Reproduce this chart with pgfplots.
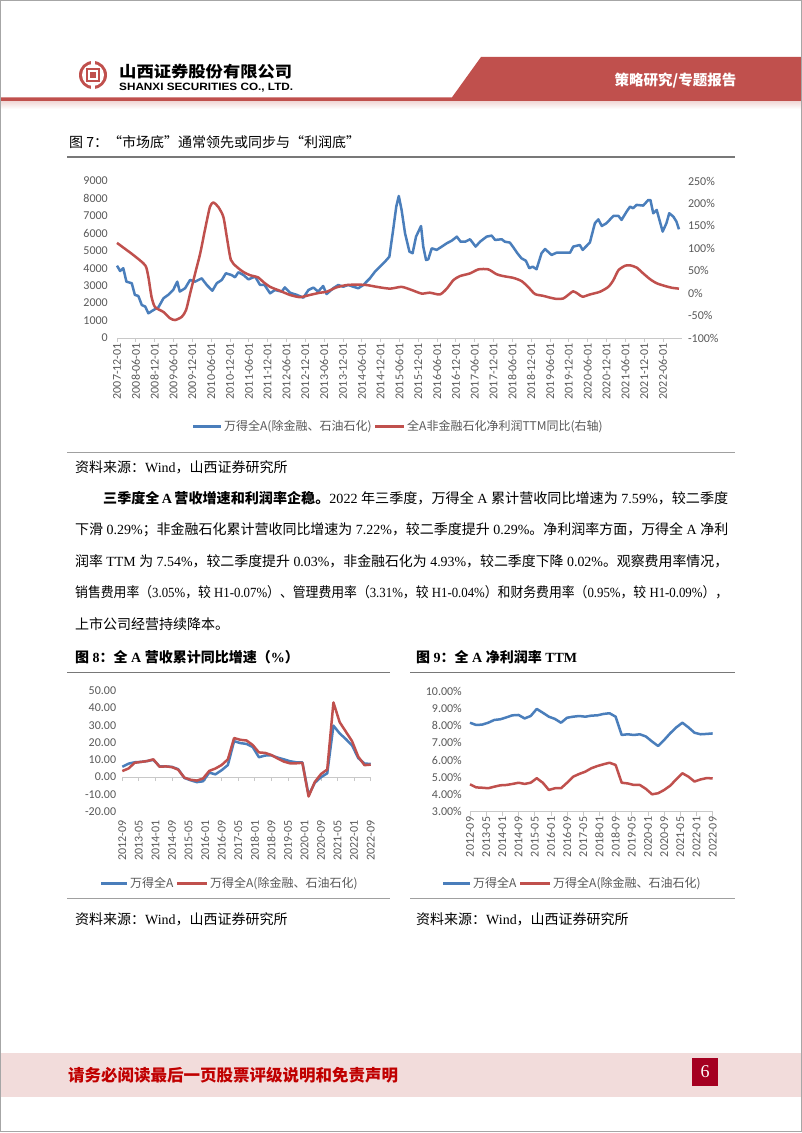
\documentclass[border=0pt]{standalone}
\usepackage{pgfplots}
\pgfplotsset{compat=1.18}
\usepackage{pgfplotstable}
\usepackage{graphicx}
\usepackage{fontspec}
\setmainfont{Liberation Serif}
\newfontfamily\cjk{Noto Sans CJK SC}
\newfontfamily\carlito{Carlito}
\newfontfamily\lsans{Liberation Sans}
\definecolor{bl}{RGB}{74,126,187}
\definecolor{rd}{RGB}{192,80,77}
\definecolor{lab}{RGB}{89,89,89}
\definecolor{axl}{RGB}{200,200,200}
\definecolor{hdr}{RGB}{192,80,77}
\definecolor{pinkband}{RGB}{242,220,219}
\definecolor{footred}{RGB}{192,0,0}
\definecolor{boxred}{RGB}{165,0,33}
\definecolor{rule}{RGB}{120,120,120}

\pgfplotstableread{
m v
0 4145
1 3840
2 4000
3 3230
4.7 3140
5.7 2470
6.8 2410
7.9 1890
9 1800
10 1415
11.6 1600
13.2 1760
14.8 2275
16.3 2470
17.9 2750
19.2 3230
20 2660
21.7 2850
23.3 3330
24.9 3230
27 3420
28.6 3040
30.4 2710
31.8 3140
33.4 3330
34.7 3710
36.5 3610
37.6 3480
38.7 3770
40.3 3610
41.9 3360
44 3520
45.6 3040
47 3040
48.8 2560
50.3 2750
52.5 2660
53.5 2900
55.1 2600
57.3 2470
59.4 2310
61 2750
62.6 2890
64.1 2660
65.7 2980
66.8 2520
68.9 2850
70.5 3040
72.1 2940
73.7 3040
75.3 2940
76.9 2850
78.5 3040
80.6 3420
82.2 3800
83.8 4090
85.4 4375
86.8 4660
88 6190
89 7530
89.8 8140
90.7 7340
91.8 6000
93.2 4950
94.2 4860
95.3 5810
96.9 6420
97.6 5240
98.5 4470
99.2 4510
100.3 5140
101.9 5050
103.5 5240
105.1 5430
106.7 5580
108.3 5810
109.5 5520
111 5520
112.5 5660
114.3 5240
115.7 5520
117.8 5810
119.4 5870
120.5 5620
122.6 5660
123.6 5520
125.2 5470
126.3 5200
127.6 4860
128.9 4570
130.3 4430
131.4 4000
132.5 4090
133.7 3940
135.3 4860
136.4 5100
138.5 4760
140.1 4890
142.2 4890
144.4 4890
145.4 5240
147.5 5330
148.4 5050
150.7 5470
152.3 6580
153.4 6800
154.5 6420
156 6580
158.2 7000
159.8 7000
160.8 6770
162.4 7240
163.5 7530
164.5 7440
165.6 7630
167.7 7590
169.3 7910
170 7910
170.9 7150
172 7340
173.9 6100
175.1 6580
176 7150
177.3 6960
178.3 6670
179.1 6230
}\indexA

\pgfplotstableread{
m v
0 112
3.1 96
5.2 85
9 62
10 36
11 -8
12.1 -31
14.8 -42
16.9 -56
18.5 -60
20.6 -53
22 -38
23.3 -1
24.9 44
26.5 88
28 140
29.6 192
30.7 202
32.3 192
33.9 170
35 125
36.3 74
38.1 59
40.3 47
42.4 40
45 35
46.6 25
48.8 14
52 5
55.1 -4
58.3 -9
61.5 -4
64.7 1
66.8 3
70 13
73.2 18
76.4 19
79.6 18
82.8 14
87 10
90.7 14
93.9 7
97.1 -1
99.7 1
102.9 -3
105.1 10
107.2 29
109.3 38
112.5 44
115.2 53
118.3 53
121 42
123.1 38
126.3 34
128.9 27
131 14
133.2 -2
135.8 -6
138 -10
140.1 -13
142.2 -12
143.8 -4
145.4 4
147 -2
148.4 -8
150.7 -3
153.9 3
156.6 14
158.2 29
159.8 51
161.9 61
163.5 62
165.6 57
167.7 44
169.9 31
172 22
174.6 16
176.8 12
179.1 10
}\profitYoY

\pgfplotstableread{
m a b
0 6.0 3.5
3 7.8 5.0
6 8.6 8.3
9 8.8 8.8
12 9.3 9.3
15 10.0 10.3
18 6.2 6.0
21 6.2 6.2
24 5.9 5.8
27 4.6 4.3
30 -0.5 -0.3
33 -1.8 -1.5
36 -2.9 -2.0
39 -2.4 -0.8
42 2.6 3.6
45 1.6 5.0
48 4.0 7.0
51 7.0 10.3
54 20.8 22.6
57 19.7 21.6
60 19.2 21.2
63 17.4 18.6
66 11.5 14.3
69 12.5 14.0
72 12.6 12.8
75 11.3 10.8
78 10.3 9.0
81 9.2 8.0
84 8.6 8.0
87 8.5 8.3
90 -10.4 -11.2
93 -3.3 -2.8
96 0.0 1.8
99 2.2 4.4
102 29.8 43.2
105 25.3 31.8
108 22.0 26.3
111 18.3 20.8
114 11.0 11.8
117 7.88 6.93
120 7.59 7.22
}\revenue

\pgfplotstableread{
m a b
0 8.16 4.59
3 8.03 4.41
6 8.05 4.39
9 8.16 4.36
12 8.32 4.45
15 8.36 4.53
18 8.47 4.55
21 8.59 4.61
24 8.61 4.68
27 8.41 4.61
30 8.55 4.68
33 8.96 4.94
36 8.74 4.68
39 8.51 4.26
42 8.38 4.36
45 8.16 4.36
48 8.45 4.68
51 8.51 5.03
54 8.55 5.19
57 8.51 5.32
60 8.57 5.52
63 8.59 5.65
66 8.67 5.75
69 8.71 5.84
72 8.51 5.71
75 7.45 4.68
78 7.49 4.64
81 7.45 4.55
84 7.49 4.55
87 7.36 4.32
90 7.07 4.01
93 6.81 4.07
96 7.16 4.26
99 7.55 4.51
102 7.89 4.88
105 8.16 5.23
108 7.89 5.03
111 7.58 4.75
114 7.49 4.87
117 7.51 4.95
120 7.54 4.93
}\margin

\pgfplotsset{
  excel/.style={
    scale only axis,
    anchor=south west,
    axis line style={axl, line width=0.8pt},
    tick style={axl, line width=0.8pt},
    major tick length=4pt,
    tick align=outside,
    tick label style={font=\carlito\fontsize{12}{12}\selectfont, text=lab},
    /pgf/number format/assume math mode=true,
    /pgf/number format/1000 sep={},
    clip=false,
  },
  dl/.style={line width=2.5pt, line join=round},
}

\begin{document}
\begin{tikzpicture}
\useasboundingbox (0,0) rectangle (802pt,1133pt);
\fill[white] (0,0) rectangle (802pt,1133pt);

% ---------------- Chart 7 ----------------
\begin{axis}[excel,
  at={(117pt,795pt)}, width=564.8pt, height=157pt,
  xmin=0, xmax=180, ymin=0, ymax=9000,
  axis x line*=bottom, axis y line*=left,
  y axis line style={draw=none}, ytick style={draw=none},
  ytick={0,1000,...,9000},
  yticklabel style={inner sep=0pt, xshift=-5pt},
  xtick={0,6,...,174},
  xticklabels={2007-12-01,2008-06-01,2008-12-01,2009-06-01,2009-12-01,2010-06-01,2010-12-01,2011-06-01,2011-12-01,2012-06-01,2012-12-01,2013-06-01,2013-12-01,2014-06-01,2014-12-01,2015-06-01,2015-12-01,2016-06-01,2016-12-01,2017-06-01,2017-12-01,2018-06-01,2018-12-01,2019-06-01,2019-12-01,2020-06-01,2020-12-01,2021-06-01,2021-12-01,2022-06-01},
  xticklabel style={rotate=90, anchor=east, inner sep=1pt},
]
\addplot[bl, dl] table[x=m, y=v] {\indexA};
\end{axis}
\begin{axis}[excel,
  at={(117pt,795pt)}, width=564.8pt, height=157pt,
  xmin=0, xmax=180, ymin=-100, ymax=250,
  axis x line=none, axis y line*=right,
  y axis line style={draw=none}, ytick style={draw=none},
  ytick={-100,-50,...,250},
  yticklabel={\pgfmathprintnumber{\tick}\%},
  yticklabel style={anchor=west, inner sep=0pt, xshift=2pt},
]
\addplot[rd, dl, smooth, tension=0.4] table[x=m, y=v] {\profitYoY};
\end{axis}

% ---------------- Chart 8 ----------------
\begin{axis}[excel,
  at={(122.3pt,321.3pt)}, width=248.4pt, height=121pt,
  xmin=0, xmax=120, ymin=-20, ymax=50,
  axis x line*=middle, axis y line*=left,
  hide obscured x ticks=false,
  y axis line style={draw=none}, ytick style={draw=none},
  ytick={-20,-10,...,50},
  yticklabel style={inner sep=0pt, xshift=-2pt, /pgf/number format/fixed, /pgf/number format/fixed zerofill, /pgf/number format/precision=2},
  xtick={0,8,...,120},
  xtick align=outside,
  xticklabels={2012-09,2013-05,2014-01,2014-09,2015-05,2016-01,2016-09,2017-05,2018-01,2018-09,2019-05,2020-01,2020-09,2021-05,2022-01,2022-09},
  xticklabel style={rotate=90, anchor=east, inner sep=1pt},
  xticklabel shift=38pt,
]
\addplot[bl, dl] table[x=m, y=a] {\revenue};
\addplot[rd, dl] table[x=m, y=b] {\revenue};
\end{axis}

% ---------------- Chart 9 ----------------
\begin{axis}[excel,
  at={(470pt,321.3pt)}, width=242.7pt, height=120.7pt,
  xmin=0, xmax=120, ymin=3, ymax=10,
  axis x line*=bottom, axis y line*=left,
  y axis line style={draw=none}, ytick style={draw=none},
  ytick={3,4,...,10},
  yticklabel={\pgfmathprintnumber[fixed,fixed zerofill,precision=2]{\tick}\%},
  yticklabel style={inner sep=0pt, xshift=-4pt},
  xtick={0,8,...,120},
  xticklabels={2012-09,2013-05,2014-01,2014-09,2015-05,2016-01,2016-09,2017-05,2018-01,2018-09,2019-05,2020-01,2020-09,2021-05,2022-01,2022-09},
  xticklabel style={rotate=90, anchor=east, inner sep=1pt},
]
\addplot[bl, dl] table[x=m, y=a] {\margin};
\addplot[rd, dl] table[x=m, y=b] {\margin};
\end{axis}

% ---------------- page decoration ----------------
\begin{scope}[x=1pt, y=-1pt, yshift=1133pt]
  % header
  \fill[hdr] (481,57) -- (802,57) -- (802,102) -- (0,102) -- (0,97.3) -- (452,97.3) -- cycle;
  \shade[top color=pinkband, bottom color=white] (0,102) rectangle (802,109);
  % logo
  \fill[hdr] (93,75) circle (14);
  \fill[white] (93,75) circle (11);
  \fill[white] (91.3,59) rectangle (94.7,65);
  \fill[white] (91.3,85) rectangle (94.7,91);
  \fill[hdr] (86,68) rectangle (100,82);
  \fill[white] (88.3,70.3) rectangle (97.7,79.7);
  \fill[hdr] (90.3,72.3) rectangle (95.7,77.7);
  \node[anchor=west, inner sep=0] at (119,71.5) {\resizebox{173pt}{\height}{\cjk\bfseries\fontsize{15.5}{16}\selectfont 山西证券股份有限公司}};
  \node[anchor=base west, inner sep=0] at (119,90.7) {\resizebox{174pt}{7.4pt}{\lsans\bfseries SHANXI SECURITIES CO., LTD.}};
  \node[anchor=west, inner sep=0, text=white] at (614.5,80.5) {\cjk\bfseries\fontsize{14.5}{15}\selectfont 策略研究/专题报告};

  % chart 7 frame texts
  \node[anchor=west, inner sep=0] at (69,142) {\cjk\fontsize{14}{15}\selectfont 图 7：“市场底”通常领先或同步与“利润底”};
  \draw[rule, line width=1.3pt] (67,157) -- (735,157);
  \draw[bl, line width=2.6pt] (193,426.7) -- (221,426.7);
  \node[anchor=west, inner sep=0, text=lab] at (224,426.7) {\cjk\fontsize{12}{12}\selectfont 万得全A(除金融、石油石化)};
  \draw[rd, line width=2.6pt] (375,426.7) -- (404,426.7);
  \node[anchor=west, inner sep=0, text=lab] at (407,426.7) {\cjk\fontsize{12}{12}\selectfont 全A非金融石化净利润TTM同比(右轴)};
  \draw[rule!70, line width=0.8pt] (67,452) -- (735,452);
  \node[anchor=west, inner sep=0] at (75,467) {\fontsize{14}{15}\selectfont{\cjk 资料来源：}Wind{\cjk ，山西证券研究所}};

  % body text
  \node[anchor=west, inner sep=0] at (103,498) {\resizebox{625pt}{\height}{\fontsize{14}{15}\selectfont{\cjk\bfseries 三季度全}\,\textbf{A}\,{\cjk\bfseries 营收增速和利润率企稳。}2022 {\cjk 年三季度，万得全} A {\cjk 累计营收同比增速为} 7.59\%{\cjk ，较二季度}}};
  \node[anchor=west, inner sep=0] at (75,529.5) {\resizebox{653pt}{\height}{\fontsize{14}{15}\selectfont{\cjk 下滑} 0.29\%{\cjk ；非金融石化累计营收同比增速为} 7.22\%{\cjk ，较二季度提升} 0.29\%{\cjk 。净利润率方面，万得全} A {\cjk 净利}}};
  \node[anchor=west, inner sep=0] at (75,561) {\resizebox{653pt}{\height}{\fontsize{14}{15}\selectfont{\cjk 润率} TTM {\cjk 为} 7.54\%{\cjk ，较二季度提升} 0.03\%{\cjk ，非金融石化为} 4.93\%{\cjk ，较二季度下降} 0.02\%{\cjk 。观察费用率情况，}}};
  \node[anchor=west, inner sep=0] at (75,592.5) {\resizebox{653pt}{\height}{\fontsize{14}{15}\selectfont{\cjk 销售费用率（}3.05\%{\cjk ，较} H1-0.07\%{\cjk ）、管理费用率（}3.31\%{\cjk ，较} H1-0.04\%{\cjk ）和财务费用率（}0.95\%{\cjk ，较} H1-0.09\%{\cjk ），}}};
  \node[anchor=west, inner sep=0] at (75,624) {\fontsize{14}{15}\selectfont\cjk 上市公司经营持续降本。};

  % chart 8 / 9 frame texts
  \node[anchor=west, inner sep=0] at (75,657) {\fontsize{14}{15}\selectfont\bfseries{\cjk 图} 8{\cjk ：全} A {\cjk 营收累计同比增速（}\%{\cjk ）}};
  \draw[rule, line width=1.3pt] (67,672.3) -- (390,672.3);
  \node[anchor=west, inner sep=0] at (416,657) {\fontsize{14}{15}\selectfont\bfseries{\cjk 图} 9{\cjk ：全} A {\cjk 净利润率} TTM};
  \draw[rule, line width=1.3pt] (410,672.3) -- (735,672.3);

  \draw[bl, line width=2.6pt] (101,883.3) -- (127,883.3);
  \node[anchor=west, inner sep=0, text=lab] at (130,883.3) {\cjk\fontsize{12}{12}\selectfont 万得全A};
  \draw[rd, line width=2.6pt] (177,883.3) -- (207,883.3);
  \node[anchor=west, inner sep=0, text=lab] at (210,883.3) {\cjk\fontsize{12}{12}\selectfont 万得全A(除金融、石油石化)};

  \draw[bl, line width=2.6pt] (443,883.3) -- (470,883.3);
  \node[anchor=west, inner sep=0, text=lab] at (473,883.3) {\cjk\fontsize{12}{12}\selectfont 万得全A};
  \draw[rd, line width=2.6pt] (520,883.3) -- (550,883.3);
  \node[anchor=west, inner sep=0, text=lab] at (553,883.3) {\cjk\fontsize{12}{12}\selectfont 万得全A(除金融、石油石化)};

  \draw[rule!70, line width=0.8pt] (67,898) -- (390,898);
  \draw[rule!70, line width=0.8pt] (410,898) -- (735,898);
  \node[anchor=west, inner sep=0] at (75,919) {\fontsize{14}{15}\selectfont{\cjk 资料来源：}Wind{\cjk ，山西证券研究所}};
  \node[anchor=west, inner sep=0] at (416,919) {\fontsize{14}{15}\selectfont{\cjk 资料来源：}Wind{\cjk ，山西证券研究所}};

  % footer
  \fill[pinkband] (0,1053) rectangle (802,1097);
  \node[anchor=west, inner sep=0, text=footred] at (68,1075) {\cjk\bfseries\fontsize{16.5}{17}\selectfont 请务必阅读最后一页股票评级说明和免责声明};
  \fill[boxred] (692,1058) rectangle (718,1086);
  \node[text=white, inner sep=0] at (705,1072) {\fontsize{18}{18}\selectfont 6};

  % page frame
  \draw[gray!70, line width=1pt] (0.5,0.5) rectangle (801.5,1132);
\end{scope}
\end{tikzpicture}
\end{document}
